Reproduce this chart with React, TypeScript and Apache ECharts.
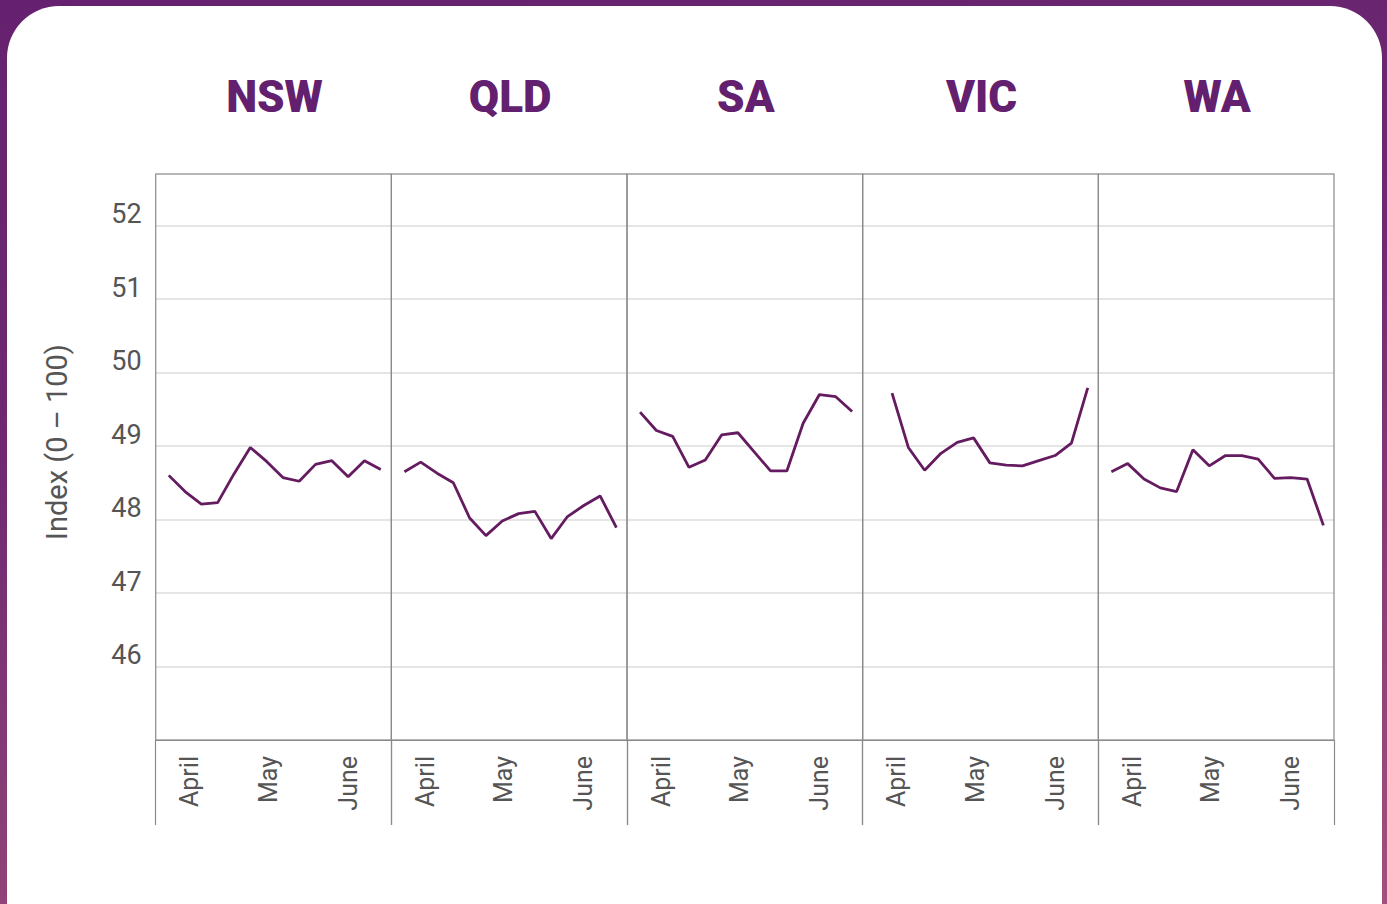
import React, { useEffect, useRef } from "react";
import * as echarts from "echarts";

const states = ["NSW", "QLD", "SA", "VIC", "WA"];
const weeks = [0, 1, 2, 3, 4, 5, 6, 7, 8, 9, 10, 11, 12, 13];
const nsw = [48.6, 48.38, 48.21, 48.23, 48.62, 48.98, 48.79, 48.57, 48.52, 48.75, 48.8, 48.58, 48.8, 48.68];
const qld = [48.65, 48.78, 48.63, 48.5, 48.02, 47.78, 47.98, 48.08, 48.11, 47.74, 48.04, 48.19, 48.32, 47.89];
const sa = [49.46, 49.21, 49.13, 48.71, 48.81, 49.15, 49.18, 48.92, 48.66, 48.66, 49.31, 49.7, 49.67, 49.47];
const vic = [null, 49.72, 48.98, 48.67, 48.9, 49.05, 49.11, 48.77, 48.74, 48.73, 48.8, 48.87, 49.04, 49.79];
const wa = [48.65, 48.76, 48.55, 48.43, 48.38, 48.95, 48.73, 48.87, 48.87, 48.82, 48.56, 48.57, 48.55, 47.92];
const seriesValues = [nsw, qld, sa, vic, wa];
const monthLabels = ["April", "May", "June"];
const monthWeekPositions = [1.3, 6.1, 11.0];
const yTickLabels = ["46", "47", "48", "49", "50", "51", "52"];

const PURPLE = "#62206f";
const LINE = "#651b5f";
const GREY = "#555555";
const BORDER = "#8a8a8a";

export default function App() {
  const ref = useRef<HTMLDivElement>(null);

  useEffect(() => {
    document.body.style.margin = "0";
    const chart = echarts.init(ref.current!, null, { renderer: "svg" });
    const left0 = 155.7;
    const pw = 235.66;
    const top = 174;
    const h = 566;
    const xMin = -0.8;
    const xMax = 13.65;

    const grids: any[] = [];
    const xAxes: any[] = [];
    const yAxes: any[] = [];
    const series: any[] = [];
    const titles: any[] = [];

    states.forEach((st, i) => {
      const left = left0 + i * pw;
      grids.push({
        left,
        top,
        width: pw,
        height: h,
        show: true,
        borderColor: BORDER,
        borderWidth: 1.2,
        backgroundColor: "transparent",
        z: 5,
      });
      titles.push({
        text: st,
        left: left + pw / 2 - 4,
        top: 70,
        textAlign: "center",
        textStyle: {
          fontFamily: "Roboto",
          fontWeight: 900,
          fontSize: 44,
          color: PURPLE,
        },
      });
      xAxes.push({
        type: "value",
        gridIndex: i,
        min: xMin,
        max: xMax,
        splitLine: { show: false },
        axisLine: { show: true, lineStyle: { color: BORDER, width: 1.2 } },
        axisTick: {
          show: true,
          customValues: [xMin, xMax],
          length: 85,
          inside: false,
          lineStyle: { color: BORDER, width: 1.2 },
        },
        axisLabel: {
          show: true,
          customValues: monthWeekPositions,
          formatter: (v: number) => {
            const idx = monthWeekPositions.findIndex((p) => Math.abs(p - v) < 1e-6);
            return idx >= 0 ? monthLabels[idx] : "";
          },
          rotate: 90,
          margin: 16,
          fontFamily: "Roboto",
          fontSize: 25,
          color: GREY,
        },
      });
      yAxes.push({
        type: "value",
        gridIndex: i,
        min: 45,
        max: 52.7,
        interval: 1,
        axisLine: { show: false },
        axisTick: { show: false },
        splitLine: { show: true, lineStyle: { color: "#dddddd", width: 1.5 } },
        axisLabel: {
          show: i === 0,
          formatter: (v: number) => (yTickLabels.includes(String(v)) ? String(v) : ""),
          fontFamily: "Roboto",
          fontSize: 27,
          lineHeight: 22,
          color: GREY,
          margin: 14,
          verticalAlign: "bottom",
        },
        name: i === 0 ? "Index (0 \u2013 100)" : "",
        nameLocation: "middle",
        nameGap: 84,
        nameTextStyle: {
          fontFamily: "Roboto",
          fontSize: 29,
          color: GREY,
          padding: [0, 0, 0, 30],
        },
      });
      const vals = seriesValues[i];
      const data = weeks
        .map((w, k) => [w, vals[k]])
        .filter((d) => d[1] !== null && d[1] !== undefined);
      series.push({
        type: "line",
        xAxisIndex: i,
        yAxisIndex: i,
        data,
        showSymbol: false,
        symbol: "none",
        lineStyle: { color: LINE, width: 2.8 },
        z: 3,
      });
    });

    chart.setOption({
      animation: false,
      title: titles,
      grid: grids,
      xAxis: xAxes,
      yAxis: yAxes,
      series,
    });
    return () => chart.dispose();
  }, []);

  return (
    <div
      style={{
        position: "relative",
        width: 1387,
        height: 904,
        overflow: "hidden",
        background: "linear-gradient(170deg, #65216f 0%, #6f2971 40%, #a1517b 100%)",
      }}
    >
      <div
        style={{
          position: "absolute",
          left: 7,
          top: 6,
          width: 1375,
          height: 950,
          background: "#ffffff",
          borderRadius: 52,
        }}
      />
      <div
        ref={ref}
        style={{ position: "absolute", left: 0, top: 0, width: 1387, height: 904 }}
      />
    </div>
  );
}
